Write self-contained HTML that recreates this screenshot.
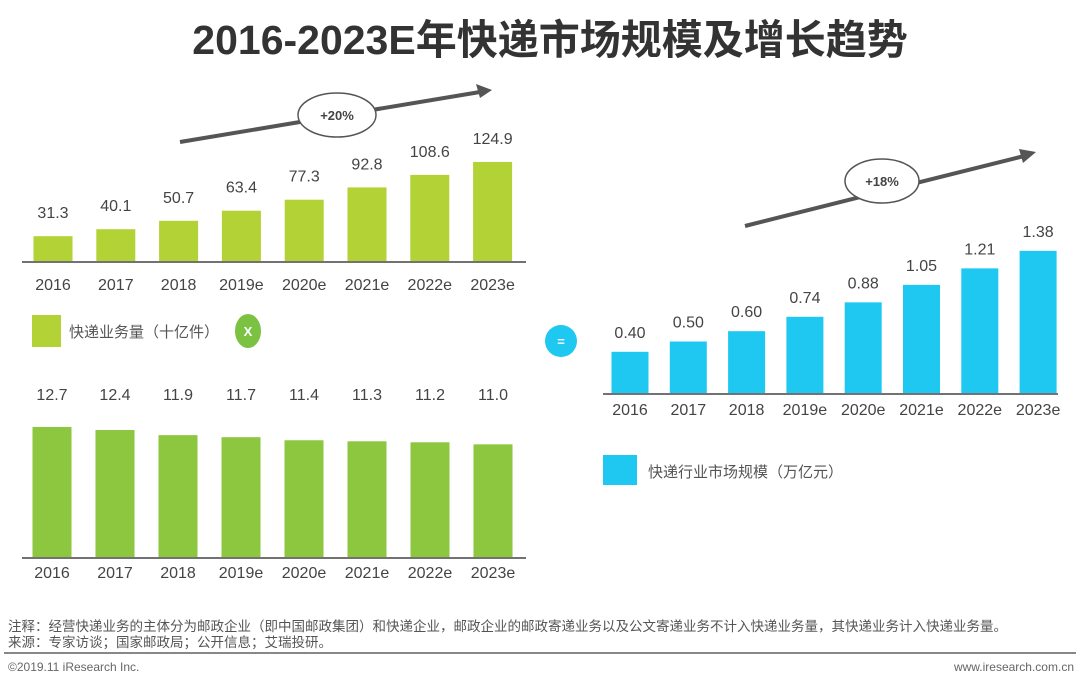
<!DOCTYPE html>
<html><head><meta charset="utf-8">
<style>
body{margin:0;width:1080px;height:688px;background:#fff;overflow:hidden;font-family:"Liberation Sans","Noto Sans CJK SC",sans-serif;}
svg text{font-family:"Liberation Sans","Noto Sans CJK SC",sans-serif;}
</style></head>
<body>
<svg id="c" width="1080" height="688" xmlns="http://www.w3.org/2000/svg">
<text x="550" y="54" text-anchor="middle" font-size="41" font-weight="bold" fill="#333">2016-2023E年快递市场规模及增长趋势</text>
<g id="g1"></g><g id="g2"></g><g id="g3"></g>
<line x1="180" y1="142" x2="480" y2="92" stroke="#555" stroke-width="4"/>
<polygon points="492,90 476,84 480,98" fill="#555"/>
<ellipse cx="337" cy="115" rx="39" ry="22" fill="#fff" stroke="#555" stroke-width="1.5"/>
<text x="337" y="120" text-anchor="middle" font-size="13" font-weight="bold" fill="#444">+20%</text>
<line x1="745" y1="226" x2="1024" y2="156" stroke="#555" stroke-width="4"/>
<polygon points="1036,152 1019,149 1023,163" fill="#555"/>
<ellipse cx="882" cy="181" rx="37" ry="22" fill="#fff" stroke="#555" stroke-width="1.5"/>
<text x="882" y="186" text-anchor="middle" font-size="13" font-weight="bold" fill="#444">+18%</text>
<rect x="32" y="315" width="29" height="32" fill="#b2d235"/>
<text x="69" y="337" font-size="15" fill="#555">快递业务量（十亿件）</text>
<ellipse cx="248" cy="331" rx="13" ry="17" fill="#7cc242"/>
<text x="248" y="336" text-anchor="middle" font-size="13" font-weight="bold" fill="#fff">X</text>
<circle cx="561" cy="341" r="16" fill="#1ec8f0"/>
<text x="561" y="346" text-anchor="middle" font-size="13" font-weight="bold" fill="#fff">=</text>
<rect x="603" y="455" width="34" height="30" fill="#1ec8f0"/>
<text x="648" y="477" font-size="15" fill="#555">快递行业市场规模（万亿元）</text>
<text x="8" y="631" font-size="13.5" fill="#555">注释：经营快递业务的主体分为邮政企业（即中国邮政集团）和快递企业，邮政企业的邮政寄递业务以及公文寄递业务不计入快递业务量，其快递业务计入快递业务量。</text>
<text x="8" y="647" font-size="13.5" fill="#555">来源：专家访谈；国家邮政局；公开信息；艾瑞投研。</text>
<line x1="4" y1="653" x2="1076" y2="653" stroke="#888" stroke-width="2"/>
<text x="8" y="671" font-size="12" fill="#666">©2019.11 iResearch Inc.</text>
<text x="1074" y="671" text-anchor="end" font-size="12" fill="#666">www.iresearch.com.cn</text>
</svg>
<script>
const categories=["2016","2017","2018","2019e","2020e","2021e","2022e","2023e"];
const volume=[31.3,40.1,50.7,63.4,77.3,92.8,108.6,124.9];
const volumeLabels=["31.3","40.1","50.7","63.4","77.3","92.8","108.6","124.9"];
const unitPrice=[12.7,12.4,11.9,11.7,11.4,11.3,11.2,11.0];
const unitPriceLabels=["12.7","12.4","11.9","11.7","11.4","11.3","11.2","11.0"];
const market=[0.40,0.50,0.60,0.74,0.88,1.05,1.21,1.38];
const marketLabels=["0.40","0.50","0.60","0.74","0.88","1.05","1.21","1.38"];
const NS="http://www.w3.org/2000/svg";
function draw(gid,vals,labels,o){
  const g=document.getElementById(gid);
  const x=i=>o.x0+o.step*i;
  const y=v=>o.base-v*o.scale;
  const ax=document.createElementNS(NS,"line");
  ax.setAttribute("x1",o.ax1);ax.setAttribute("x2",o.ax2);ax.setAttribute("y1",o.base+1);ax.setAttribute("y2",o.base+1);
  ax.setAttribute("stroke","#444");ax.setAttribute("stroke-width","1.5");
  
  
  g.appendChild(ax);
  vals.forEach((v,i)=>{
    const r=document.createElementNS(NS,"rect");
    r.setAttribute("x",x(i)-o.w/2);r.setAttribute("y",y(v));r.setAttribute("width",o.w);r.setAttribute("height",o.base-y(v));r.setAttribute("fill",o.color);
    
    
    g.appendChild(r);
    const t=document.createElementNS(NS,"text");
    t.setAttribute("x",x(i));t.setAttribute("y",o.fixedLabelY||y(v)-o.gap);t.setAttribute("text-anchor","middle");t.setAttribute("font-size","16");t.setAttribute("fill","#444");
    t.textContent=labels[i];
    
    
    g.appendChild(t);
    const c=document.createElementNS(NS,"text");
    c.setAttribute("x",x(i));c.setAttribute("y",o.base+o.tick);c.setAttribute("text-anchor","middle");c.setAttribute("font-size","16");c.setAttribute("fill","#444");
    c.textContent=categories[i];
    
    
    g.appendChild(c);
  });
}
draw("g1",volume,volumeLabels,{x0:53,step:62.8,w:39,base:261,scale:0.793,color:"#b2d235",ax1:22,ax2:526,name:"volume",gap:18,tick:29});
draw("g2",unitPrice,unitPriceLabels,{x0:52,step:63,w:39,base:557,scale:10.24,color:"#8dc63f",ax1:22,ax2:526,name:"unit-price",fixedLabelY:400,gap:18,tick:21});
draw("g3",market,marketLabels,{x0:630,step:58.3,w:37,base:393,scale:103,color:"#1ec8f0",ax1:603,ax2:1058,name:"market",gap:14,tick:22});
</script>
</body></html>
